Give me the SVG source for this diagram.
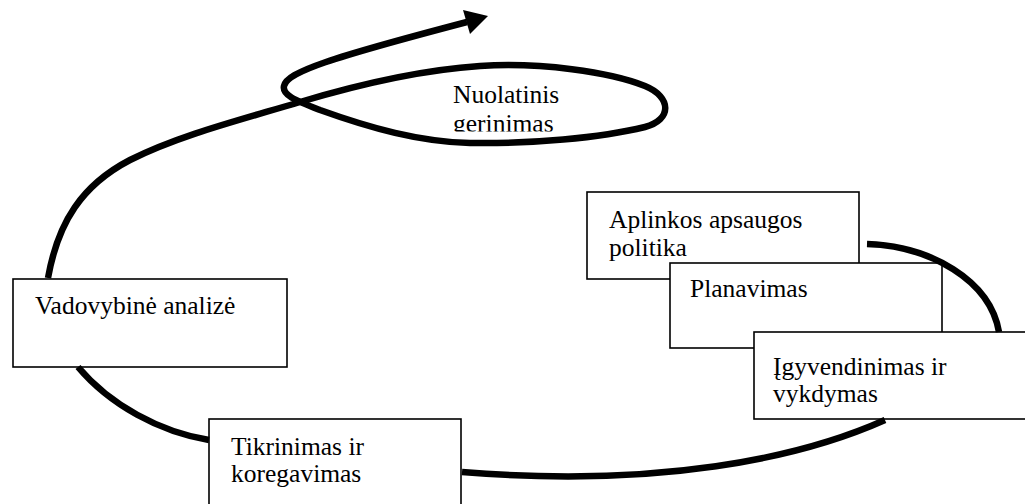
<svg xmlns="http://www.w3.org/2000/svg" width="1025" height="504" viewBox="0 0 1025 504">
<style>
.box{fill:#fff;stroke:#000;stroke-width:1.6}
text{font-family:'Liberation Serif','DejaVu Serif',serif;font-size:25.5px;fill:#000}
.c{fill:none;stroke:#000;stroke-width:6.5;stroke-linecap:butt}
</style>
<defs>
<clipPath id="clipN"><rect x="440" y="70" width="200" height="61.5"/></clipPath>
</defs>
<rect width="1025" height="504" fill="#fff"/>
<g id="node-nuolatinis" clip-path="url(#clipN)" font-family="Liberation Serif, serif">
<text x="453" y="103">Nuolatinis</text>
<text x="453" y="132">gerinimas</text>
</g>
<g id="node-aplinkos" font-family="Liberation Serif, serif">
<rect class="box" x="587" y="192" width="272" height="87"/>
<text x="609" y="228">Aplinkos apsaugos</text>
<text x="609" y="256">politika</text>
</g>
<g id="node-planavimas" font-family="Liberation Serif, serif">
<rect class="box" x="670" y="263" width="272" height="85"/>
<text x="690" y="297">Planavimas</text>
</g>
<g id="node-igyvendinimas" font-family="Liberation Serif, serif">
<rect class="box" x="754" y="332" width="280" height="87"/>
<text x="773" y="375">Įgyvendinimas ir</text>
<text x="773" y="402">vykdymas</text>
</g>
<g id="node-vadovybine" font-family="Liberation Serif, serif">
<rect class="box" x="13" y="279" width="274" height="88"/>
<text x="35" y="314">Vadovybinė analizė</text>
</g>
<g id="node-tikrinimas" font-family="Liberation Serif, serif">
<rect class="box" x="209" y="419" width="252" height="95"/>
<text x="231" y="455">Tikrinimas ir</text>
<text x="231" y="482">koregavimas</text>
</g>
<g id="connectors">
<path class="c" d="M48,278 C58,222 82,185 130,160 C180,135 240,120 300,102 C360,84 420,70 480,66 C540,62 610,72 645,86 C672,97 672,120 645,127 C600,138 530,144 470,143 C420,142 370,128 320,110 C295,100 282,95 284,86 C287,72 330,58 467,22"/>
<polygon points="488,16 463,10 470,34" fill="#000"/>
<path class="c" d="M867,244 C930,246 990,280 999,332"/>
<path class="c" d="M885,420 C800,458 660,488 462,472"/>
<path class="c" d="M78,367 C110,405 160,432 209,440"/>
</g>
</svg>
